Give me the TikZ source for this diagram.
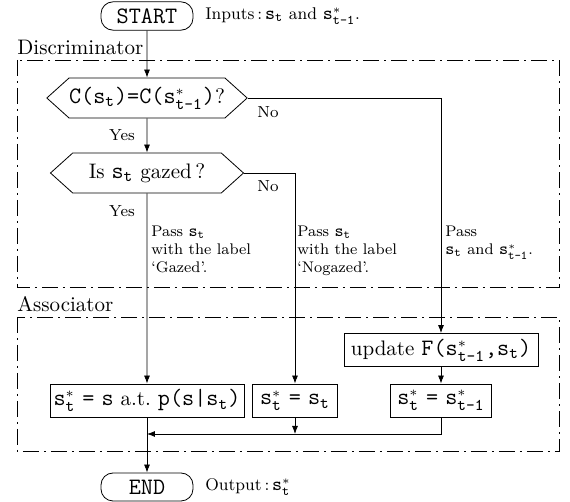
\documentclass[tikz,border=0pt]{standalone}
\usepackage{amsmath}
\usepackage{fontspec}
\setmonofont{Latin Modern Mono}[Scale=1.12]
\usetikzlibrary{shapes.symbols,arrows.meta,calc}
\newcommand{\st}{\ensuremath{\mathtt{s}_{\texttt{t}}}}
\newcommand{\sprev}{\ensuremath{\mathtt{s}^{*}_{\texttt{t-1}}}}
\newcommand{\snow}{\ensuremath{\mathtt{s}^{*}_{\texttt{t}}}}
\tikzset{
  term/.style={draw,rounded corners=6pt,minimum width=46pt,minimum height=14pt,
    font=\ttfamily\fontsize{10.5}{12}\selectfont},
  decide/.style={draw,signal,signal to=west and east,signal pointer angle=84,
    minimum width=96.5pt,minimum height=20pt,inner sep=0pt,font=\fontsize{10.5}{12}\selectfont},
  proc/.style={draw,minimum height=16.5pt,inner sep=1pt,font=\fontsize{10.5}{12}\selectfont},
  stage/.style={dash pattern=on 8pt off 2.5pt on 1pt off 2.5pt},
  stagename/.style={anchor=base west,inner sep=0pt,font=\fontsize{10.5}{12}\selectfont},
  note/.style={align=left,inner sep=0pt,anchor=north west,font=\fontsize{7.7}{9}\selectfont},
  side/.style={anchor=west,inner sep=0pt,font=\fontsize{8.5}{10}\selectfont},
  yn/.style={inner sep=0pt,font=\fontsize{8}{9}\selectfont},
  flow/.style={-{Latex[length=4pt,width=3pt]}}
}

\begin{document}
\begin{tikzpicture}[x=0.5pt,y=-0.5pt]
\useasboundingbox (0,0) rectangle (570,502);
% the two stages
\draw[stage] (17,60) rectangle (559,287);
\draw[stage] (17,317) rectangle (559,451);
\node[stagename] (disc) at (17,55) {Discriminator};
\node[stagename] (assoc) at (17,312) {Associator};

\node[term] (start) at (147,16) {START};
\node[side] (inp) at (205,16) {Inputs\,:\,\st{} and \sprev.};
\node[decide] (cmp) at (147,98) {\texttt{C(}\st\texttt{)=C(}\sprev\texttt{)}?};
\node[decide] (gaze) at (147,173) {Is \st{} gazed\,?};
\node[proc,minimum width=97pt] (upd) at (441,350) {update \texttt{F(}\sprev\texttt{,}\st\texttt{)}};
\node[proc,minimum width=97pt] (pick) at (147,400.5) {\snow{} \texttt{=} \texttt{s} a.t.\ \texttt{p(s|}\st\texttt{)}};
\node[proc,minimum width=42.5pt] (keep) at (295,400.5) {\snow{} \texttt{=} \st};
\node[proc,minimum width=50.5pt] (prev) at (441,400.5) {\snow{} \texttt{=} \sprev};
\node[term] (end) at (147,487) {END};
\node[side] (outp) at (205,487) {Output\,:\,\snow};

\node[yn] (yes1) at (122,135) {Yes};
\node[yn] (no1) at (268,112) {No};
\node[yn] (yes2) at (122,211) {Yes};
\node[yn] (no2) at (268,186) {No};

\node[note] (gz) at (151,226) {Pass \st\\with the label\\`Gazed'.};
\node[note] (ngz) at (297,226) {Pass \st\\with the label\\`Nogazed'.};
\node[note] (both) at (445,226) {Pass\\\st{} and \sprev.};

\coordinate (c1) at (cmp.east -| upd);
\coordinate (c2) at (gaze.east -| keep);
\coordinate (m) at (pick |- 0,434);
\coordinate (m2) at (keep |- m);
\coordinate (m3) at (prev |- m);

\draw[flow] (start) -- (cmp);
\draw[flow] (cmp) -- (gaze);
\draw[flow] (cmp.east) -- (c1) -- (upd);
\draw[flow] (gaze.east) -- (c2) -- (keep);
\draw[flow] (gaze) -- (pick);
\draw[flow] (upd) -- (prev);
\draw[flow] (prev) -- (m3) -- (m);
\draw[flow] (keep) -- (m2);
\draw[flow] (pick) -- (end);
\end{tikzpicture}
\end{document}
